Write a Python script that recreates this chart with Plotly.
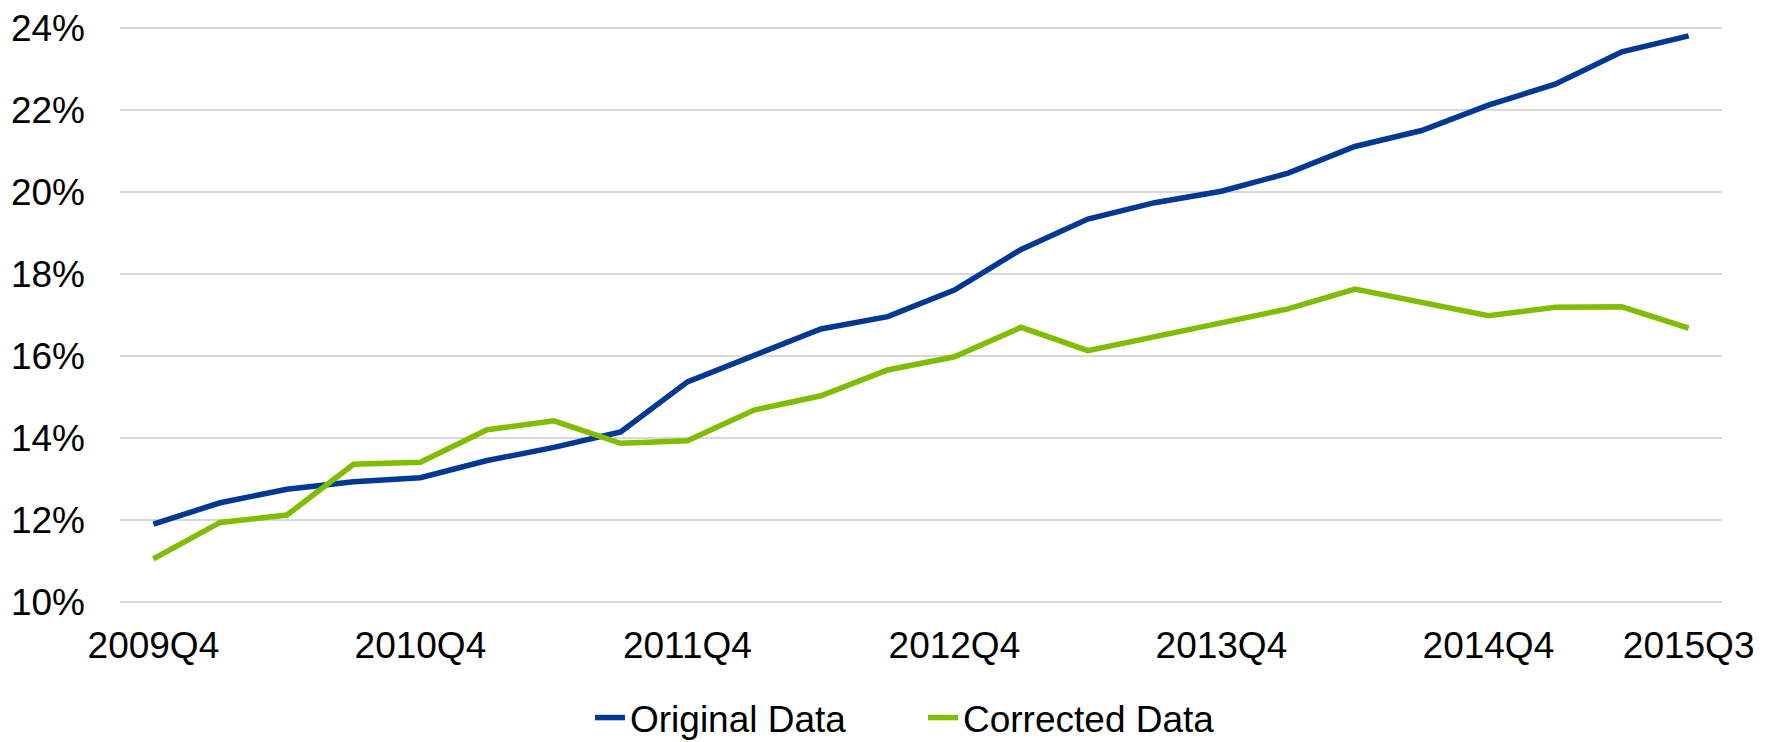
import plotly.graph_objects as go

quarters = ["2009Q4",
            "2010Q1", "2010Q2", "2010Q3", "2010Q4",
            "2011Q1", "2011Q2", "2011Q3", "2011Q4",
            "2012Q1", "2012Q2", "2012Q3", "2012Q4",
            "2013Q1", "2013Q2", "2013Q3", "2013Q4",
            "2014Q1", "2014Q2", "2014Q3", "2014Q4",
            "2015Q1", "2015Q2", "2015Q3"]

original = [11.90, 12.42, 12.75, 12.93, 13.03, 13.45, 13.77, 14.15,
            15.37, 16.00, 16.66, 16.96, 17.61, 18.60, 19.34, 19.74,
            20.02, 20.46, 21.11, 21.50, 22.12, 22.63, 23.42, 23.81]

corrected = [11.05, 11.94, 12.12, 13.36, 13.41, 14.20, 14.42, 13.87,
             13.93, 14.68, 15.03, 15.66, 15.98, 16.70, 16.13, 16.47,
             16.80, 17.15, 17.63, 17.30, 16.98, 17.19, 17.20, 16.68]

tick_labels = ["2009Q4", "2010Q4", "2011Q4", "2012Q4", "2013Q4", "2014Q4", "2015Q3"]
y_ticks = [10, 12, 14, 16, 18, 20, 22, 24]

FONT = "Liberation Sans, Arial, sans-serif"

fig = go.Figure()
fig.add_trace(go.Scatter(x=quarters, y=original, mode="lines", name="Original Data",
                         line=dict(color="#003894", width=5.5)))
fig.add_trace(go.Scatter(x=quarters, y=corrected, mode="lines", name="Corrected Data",
                         line=dict(color="#80BC00", width=5.5)))

fig.update_layout(
    width=1767, height=742,
    margin=dict(l=120, r=45, t=27, b=139, autoexpand=False),
    paper_bgcolor="white", plot_bgcolor="white",
    font=dict(family=FONT, size=37, color="black"),
    showlegend=True,
    legend=dict(orientation="h", x=(590 - 120) / 1602, xanchor="left",
                yref="container", y=(742 - 718) / 742, yanchor="middle",
                font=dict(family=FONT, size=37, color="black"),
                entrywidth=288, entrywidthmode="pixels",
                itemwidth=30, tracegroupgap=0),
    xaxis=dict(type="category", categoryorder="array", categoryarray=quarters,
               range=[-0.5, 23.5], tickmode="array", tickvals=tick_labels, ticktext=tick_labels,
               showgrid=False, zeroline=False, showline=False, ticks="", automargin=False,
               ticklabelstandoff=17, tickfont=dict(size=37)),
    yaxis=dict(range=[9.975, 24.025], tickmode="array", tickvals=y_ticks,
               ticktext=[f"{v}%" for v in y_ticks], automargin=False,
               showgrid=True, gridcolor="#D9D9D9", gridwidth=2, zeroline=False,
               showline=False, ticks="", ticklabelstandoff=34, tickfont=dict(size=37)),
)

fig.write_html("out.html", config={"displayModeBar": False},
               post_script="document.body.style.margin='0px';")
